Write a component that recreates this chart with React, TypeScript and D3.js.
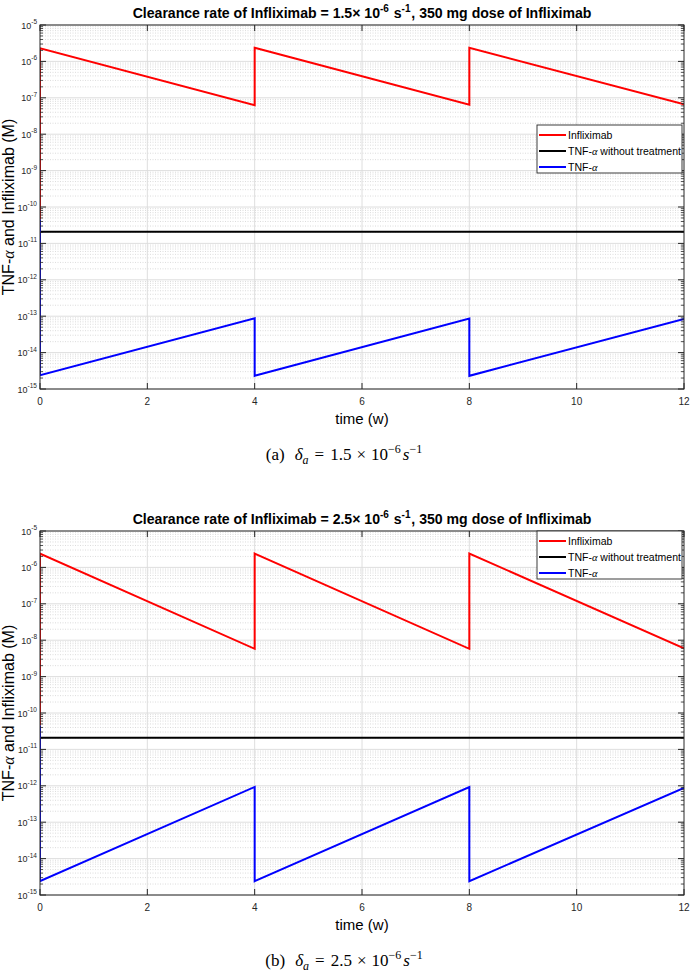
import React from 'react';
import * as d3 from 'd3';

type Pt = [number, number];

// time in weeks, concentration in M
const weekTicks = [0, 2, 4, 6, 8, 10, 12];
const decadeExps = [-15, -14, -13, -12, -11, -10, -9, -8, -7, -6, -5];
const minorMultipliers = [2, 3, 4, 5, 6, 7, 8, 9];

// clearance 1.5e-6 1/s
const infliximabSlow: Pt[] = [[0, 4.5e-11], [0, 2.3e-6], [4, 6.3e-8], [4, 2.37e-6], [8, 6.5e-8], [8, 2.37e-6], [12, 6.6e-8]];
const tnfSlow: Pt[] = [[0, 4.5e-11], [0, 2.4e-15], [4, 8.8e-14], [4, 2.3e-15], [8, 8.6e-14], [8, 2.3e-15], [12, 8.4e-14]];
// clearance 2.5e-6 1/s
const infliximabFast: Pt[] = [[0, 4.5e-11], [0, 2.4e-6], [4, 5.8e-9], [4, 2.4e-6], [8, 5.8e-9], [8, 2.4e-6], [12, 6.0e-9]];
const tnfFast: Pt[] = [[0, 4.5e-11], [0, 2.4e-15], [4, 9.3e-13], [4, 2.4e-15], [8, 9.2e-13], [8, 2.4e-15], [12, 8.8e-13]];
// untreated TNF-alpha level
const tnfUntreated: Pt[] = [[0, 2.1e-11], [12, 2.1e-11]];

const legendLabels = ['Infliximab', 'TNF-α without treatment', 'TNF-α'];
const seriesColors = ['#ff0000', '#000000', '#0000ff'];

const SANS = '"Liberation Sans", Arial, Helvetica, sans-serif';
const SERIF = '"Liberation Serif", "Times New Roman", serif';
const AXIS = '#262626';

const left = 40;
const right = 684;
const plotH = 364;

const Alpha = () => (
  <tspan fontFamily={SERIF} fontStyle="italic">α</tspan>
);

interface PanelProps {
  y0: number;
  rate: string;
  tag: string;
  infliximab: Pt[];
  tnf: Pt[];
  legendTop: number;
}

const Panel: React.FC<PanelProps> = ({ y0, rate, tag, infliximab, tnf, legendTop }) => {
  const x = d3.scaleLinear().domain([0, 12]).range([left, right]);
  const y = d3.scaleLog().domain([1e-15, 1e-5]).range([y0 + plotH, y0]);
  const line = d3.line<Pt>().x(d => x(d[0])).y(d => y(d[1]));
  const bottom = y0 + plotH;
  const clipId = `clip-${tag}`;

  const minors: number[] = [];
  decadeExps.slice(0, -1).forEach(e => minorMultipliers.forEach(m => minors.push(m * Math.pow(10, e))));

  const series = [infliximab, tnfUntreated, tnf];

  return (
    <g>
      <defs>
        <clipPath id={clipId}>
          <rect x={left} y={y0} width={right - left} height={plotH} />
        </clipPath>
      </defs>

      {/* grid */}
      {minors.map((v, i) => (
        <line key={`mg${i}`} x1={left} x2={right} y1={y(v)} y2={y(v)}
          stroke="#c4c4c4" strokeWidth={0.6} strokeDasharray="1 1.5" />
      ))}
      {decadeExps.map(e => (
        <line key={`gy${e}`} x1={left} x2={right} y1={y(Math.pow(10, e))} y2={y(Math.pow(10, e))}
          stroke="#dadada" strokeWidth={0.9} />
      ))}
      {weekTicks.slice(1, -1).map(t => (
        <line key={`gx${t}`} x1={x(t)} x2={x(t)} y1={y0} y2={bottom} stroke="#dadada" strokeWidth={0.9} />
      ))}

      {/* series */}
      <g clipPath={`url(#${clipId})`}>
        {series.map((s, i) => (
          <path key={i} d={line(s) ?? ''} fill="none" stroke={seriesColors[i]} strokeWidth={2} strokeLinejoin="miter" />
        ))}
      </g>

      {/* axes box */}
      <rect x={left} y={y0} width={right - left} height={plotH} fill="none" stroke={AXIS} strokeWidth={1} />
      {weekTicks.map(t => (
        <g key={`xt${t}`}>
          <line x1={x(t)} x2={x(t)} y1={bottom} y2={bottom - 6} stroke={AXIS} />
          <line x1={x(t)} x2={x(t)} y1={y0} y2={y0 + 6} stroke={AXIS} />
          <text x={x(t)} y={bottom + 16} textAnchor="middle" fontFamily={SANS} fontSize={10} fill={AXIS}>{t}</text>
        </g>
      ))}
      {decadeExps.map(e => {
        const yy = y(Math.pow(10, e));
        return (
          <g key={`yt${e}`}>
            <line x1={left} x2={left + 6} y1={yy} y2={yy} stroke={AXIS} />
            <line x1={right} x2={right - 6} y1={yy} y2={yy} stroke={AXIS} />
            <text x={37} y={yy + 3.5} textAnchor="end" fontFamily={SANS} fontSize={9} fill={AXIS}>
              10<tspan dy={-4.5} fontSize={6.5}>{e}</tspan>
            </text>
          </g>
        );
      })}
      {minors.map((v, i) => (
        <g key={`ym${i}`}>
          <line x1={left} x2={left + 3} y1={y(v)} y2={y(v)} stroke={AXIS} strokeWidth={0.8} />
          <line x1={right} x2={right - 3} y1={y(v)} y2={y(v)} stroke={AXIS} strokeWidth={0.8} />
        </g>
      ))}

      {/* title, narrowed horizontally */}
      <g transform={`translate(${(left + right) / 2},${y0 - 7}) scale(0.91,1)`}>
        <text x={0} y={0} textAnchor="middle" fontFamily={SANS} fontWeight="bold" fontSize={15.5} fill="#000">
          Clearance rate of Infliximab = {rate}× 10<tspan dy={-6} fontSize={11}>-6</tspan>
          <tspan dx={1} dy={6}> s</tspan><tspan dy={-6} fontSize={11}>-1</tspan>
          <tspan dx={1} dy={6}>, 350 mg dose of Infliximab</tspan>
        </text>
      </g>

      {/* axis labels */}
      <text x={(left + right) / 2} y={bottom + 35} textAnchor="middle" fontFamily={SANS} fontSize={15} fill="#000">
        time (w)
      </text>
      <text transform={`translate(14,${y0 + plotH / 2}) rotate(-90)`} textAnchor="middle" fontFamily={SANS}
        fontSize={16} fill="#000">
        TNF-<Alpha /> and Infliximab (M)
      </text>

      {/* legend */}
      <g transform={`translate(537,${legendTop})`}>
        <rect x={0} y={0} width={145} height={48} fill="#fff" stroke={AXIS} strokeWidth={0.9} />
        {legendLabels.map((lab, i) => (
          <g key={lab} transform={`translate(0,${10 + i * 16})`}>
            <line x1={2} x2={29} y1={0} y2={0} stroke={seriesColors[i]} strokeWidth={2} />
            <text x={31} y={3.8} fontFamily={SANS} fontSize={10.5} fill="#000">
              {lab.includes('α') ? <>TNF-<Alpha />{lab.split('α')[1]}</> : lab}
            </text>
          </g>
        ))}
      </g>

      {/* caption */}
      <text x={344} y={y0 + 435} textAnchor="middle" fontFamily={SERIF} fontSize={17} fill="#000">
        ({tag})<tspan dx={10} fontStyle="italic">δ</tspan>
        <tspan dy={3.5} fontSize={12} fontStyle="italic">a</tspan>
        <tspan dx={6} dy={-3.5}>=</tspan>
        <tspan dx={6}>{rate}</tspan>
        <tspan dx={5}>×</tspan>
        <tspan dx={5}>10</tspan>
        <tspan dy={-7} fontSize={12}>−6</tspan>
        <tspan dx={2} dy={7} fontStyle="italic">s</tspan>
        <tspan dy={-7} fontSize={12}>−1</tspan>
      </text>
    </g>
  );
};

export default function App() {
  return (
    <svg width={691} height={975} style={{ position: 'absolute', left: 0, top: 0, background: '#fff' }}>
      <rect width={691} height={975} fill="#fff" />
      <Panel y0={25} rate="1.5" tag="a" infliximab={infliximabSlow} tnf={tnfSlow} legendTop={125} />
      <Panel y0={531} rate="2.5" tag="b" infliximab={infliximabFast} tnf={tnfFast} legendTop={531} />
    </svg>
  );
}
